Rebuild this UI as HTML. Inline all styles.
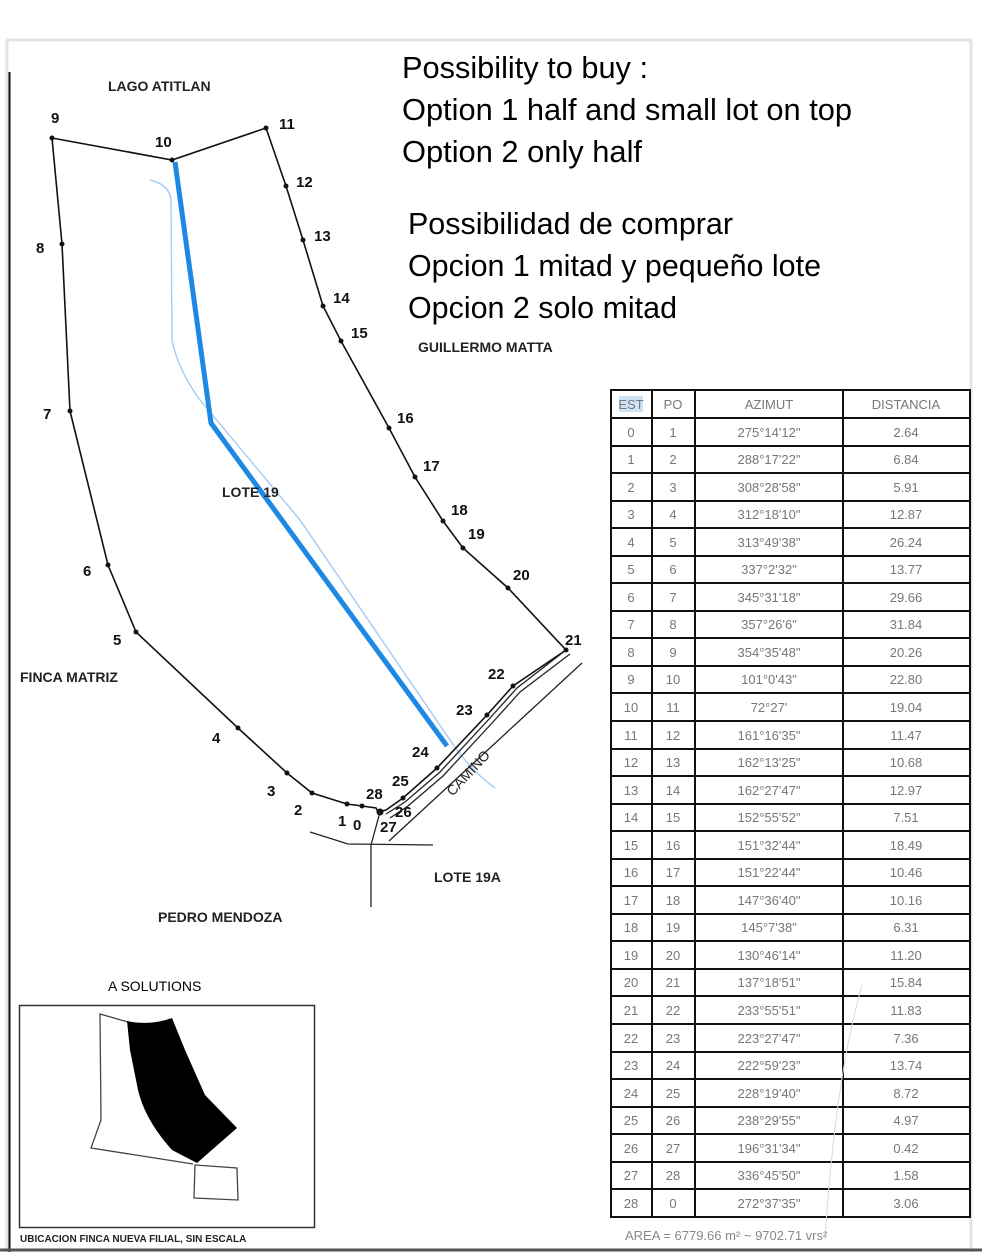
<!DOCTYPE html>
<html><head><meta charset="utf-8"><style>
html,body{margin:0;padding:0;background:#fff;width:982px;height:1252px;overflow:hidden}
svg{display:block}
</style></head><body>
<svg width="982" height="1252" viewBox="0 0 982 1252" xmlns="http://www.w3.org/2000/svg" font-family="Liberation Sans, sans-serif">
<rect x="0" y="0" width="982" height="1252" fill="#fff"/>
<rect x="7" y="40" width="964" height="1220" fill="none" stroke="#e4e4e4" stroke-width="3"/>
<line x1="9.5" y1="72" x2="9.5" y2="1252" stroke="#111" stroke-width="2"/>
<line x1="0" y1="1250" x2="982" y2="1250" stroke="#555" stroke-width="3"/>

<g font-size="30.5" fill="#000">
<text x="402" y="78" textLength="246" lengthAdjust="spacingAndGlyphs">Possibility to buy :</text>
<text x="402" y="120" textLength="450" lengthAdjust="spacingAndGlyphs">Option 1 half and small lot on top</text>
<text x="402" y="162" textLength="240" lengthAdjust="spacingAndGlyphs">Option 2 only half</text>
<text x="408" y="234" textLength="325" lengthAdjust="spacingAndGlyphs">Possibilidad de comprar</text>
<text x="408" y="276" textLength="413" lengthAdjust="spacingAndGlyphs">Opcion 1 mitad y pequeño lote</text>
<text x="408" y="318" textLength="269" lengthAdjust="spacingAndGlyphs">Opcion 2 solo mitad</text>
</g>

<path d="M150,180 Q170,185 171,200 L172,340 Q178,370 200,400 L300,520 L450,740 Q470,770 495,788" fill="none" stroke="#a9cdf5" stroke-width="1.5"/>

<polyline fill="none" stroke="#111" stroke-width="1.6" points="52,138 172,160 266,128 286,186 303,240 323,306 341,341 389,428 415,477 443,521 463,548 508,588 566,650 513,686 487,715 437,768 403,798 386,810 378,812 376,808 362,806 347,804 312,793 287,773 238,728 136,632 108,565 70,411 62,244 52,138"/>
<g fill="#111">
<circle cx="52" cy="138" r="2.5"/><circle cx="172" cy="160" r="2.5"/><circle cx="266" cy="128" r="2.5"/><circle cx="286" cy="186" r="2.5"/><circle cx="303" cy="240" r="2.5"/><circle cx="323" cy="306" r="2.5"/><circle cx="341" cy="341" r="2.5"/><circle cx="389" cy="428" r="2.5"/><circle cx="415" cy="477" r="2.5"/><circle cx="443" cy="521" r="2.5"/><circle cx="463" cy="548" r="2.5"/><circle cx="508" cy="588" r="2.5"/><circle cx="566" cy="650" r="2.5"/><circle cx="513" cy="686" r="2.5"/><circle cx="487" cy="715" r="2.5"/><circle cx="437" cy="768" r="2.5"/><circle cx="403" cy="798" r="2.5"/><circle cx="380" cy="812" r="3.5"/><circle cx="362" cy="806" r="2.5"/><circle cx="347" cy="804" r="2.5"/><circle cx="312" cy="793" r="2.5"/><circle cx="287" cy="773" r="2.5"/><circle cx="238" cy="728" r="2.5"/><circle cx="136" cy="632" r="2.5"/><circle cx="108" cy="565" r="2.5"/><circle cx="70" cy="411" r="2.5"/><circle cx="62" cy="244" r="2.5"/>
</g>
<g fill="none" stroke="#222" stroke-width="1.3">
<polyline points="566,650 517,688 490,718 440,772 405,802 386,814"/>
<polyline points="570,654 520,692 493,722 443,776 408,806 390,818"/>
<line x1="582" y1="663" x2="389" y2="841"/>
<polyline points="310,832 348,844 433,845"/>
<line x1="371" y1="845" x2="371" y2="907"/>
<line x1="380" y1="812" x2="371" y2="845"/>
</g>
<text x="438" y="797" font-size="14" fill="#222" transform="rotate(-47 445 780)">CAMINO</text>

<polyline points="175,162 211,423 447,746" fill="none" stroke="#1e88e5" stroke-width="5"/>

<g font-size="14" font-weight="bold" fill="#222">
<text x="108" y="91">LAGO ATITLAN</text>
<text x="418" y="352">GUILLERMO MATTA</text>
<text x="222" y="497">LOTE 19</text>
<text x="20" y="682">FINCA MATRIZ</text>
<text x="434" y="882">LOTE 19A</text>
<text x="158" y="922">PEDRO MENDOZA</text>
</g>
<g font-size="15" font-weight="bold" fill="#111">
<text x="51" y="123">9</text><text x="155" y="147">10</text><text x="279" y="129">11</text><text x="296" y="187">12</text><text x="314" y="241">13</text><text x="333" y="303">14</text><text x="351" y="338">15</text><text x="397" y="423">16</text><text x="423" y="471">17</text><text x="451" y="515">18</text><text x="468" y="539">19</text><text x="513" y="580">20</text><text x="565" y="645">21</text><text x="488" y="679">22</text><text x="456" y="715">23</text><text x="412" y="757">24</text><text x="392" y="786">25</text><text x="395" y="817">26</text><text x="380" y="832">27</text><text x="366" y="799">28</text><text x="353" y="830">0</text><text x="338" y="826">1</text><text x="294" y="815">2</text><text x="267" y="796">3</text><text x="212" y="743">4</text><text x="113" y="645">5</text><text x="83" y="576">6</text><text x="43" y="419">7</text><text x="36" y="253">8</text>
</g>

<text x="108" y="991" font-size="14" fill="#000">A SOLUTIONS</text>
<rect x="19.5" y="1005.5" width="295" height="222" fill="none" stroke="#333" stroke-width="1.5"/>
<path d="M128,1022 L100,1014 L101,1120 L91,1148 L193,1164" fill="none" stroke="#444" stroke-width="1.3"/>
<path d="M127,1021 Q150,1026 172,1018 L185,1050 L205,1095 L237,1128 L197,1163 L172,1150 Q145,1120 138,1090 L130,1050 Z" fill="#000"/>
<path d="M195,1165 L237,1168 L238,1200 L194,1198 Z" fill="none" stroke="#444" stroke-width="1.3"/>
<text x="20" y="1242" font-size="10" font-weight="bold" fill="#222">UBICACION FINCA NUEVA FILIAL, SIN ESCALA</text>

<g stroke="#111" stroke-width="2" fill="none">
<rect x="611" y="390" width="359" height="827"/>
<line x1="652" y1="390" x2="652" y2="1217"/>
<line x1="695" y1="390" x2="695" y2="1217"/>
<line x1="843" y1="390" x2="843" y2="1217"/>
</g>
<g stroke="#111" stroke-width="2">
<line x1="611" y1="418" x2="970" y2="418"/><line x1="611" y1="446" x2="970" y2="446"/><line x1="611" y1="473" x2="970" y2="473"/><line x1="611" y1="501" x2="970" y2="501"/><line x1="611" y1="528" x2="970" y2="528"/><line x1="611" y1="556" x2="970" y2="556"/><line x1="611" y1="583" x2="970" y2="583"/><line x1="611" y1="611" x2="970" y2="611"/><line x1="611" y1="638" x2="970" y2="638"/><line x1="611" y1="666" x2="970" y2="666"/><line x1="611" y1="693" x2="970" y2="693"/><line x1="611" y1="721" x2="970" y2="721"/><line x1="611" y1="749" x2="970" y2="749"/><line x1="611" y1="776" x2="970" y2="776"/><line x1="611" y1="804" x2="970" y2="804"/><line x1="611" y1="831" x2="970" y2="831"/><line x1="611" y1="859" x2="970" y2="859"/><line x1="611" y1="886" x2="970" y2="886"/><line x1="611" y1="914" x2="970" y2="914"/><line x1="611" y1="941" x2="970" y2="941"/><line x1="611" y1="969" x2="970" y2="969"/><line x1="611" y1="996" x2="970" y2="996"/><line x1="611" y1="1024" x2="970" y2="1024"/><line x1="611" y1="1052" x2="970" y2="1052"/><line x1="611" y1="1079" x2="970" y2="1079"/><line x1="611" y1="1107" x2="970" y2="1107"/><line x1="611" y1="1134" x2="970" y2="1134"/><line x1="611" y1="1162" x2="970" y2="1162"/><line x1="611" y1="1189" x2="970" y2="1189"/>
</g>
<rect x="619" y="396" width="24" height="16" fill="#cfe3f7"/>
<g font-size="13" fill="#777" text-anchor="middle">
<text x="631" y="409">EST</text><text x="673" y="409">PO</text><text x="769" y="409">AZIMUT</text><text x="906" y="409">DISTANCIA</text>
</g>
<g font-size="13" fill="#777" text-anchor="middle">
<text x="631" y="437">0</text><text x="673" y="437">1</text><text x="769" y="437">275°14'12"</text><text x="906" y="437">2.64</text>
<text x="631" y="464">1</text><text x="673" y="464">2</text><text x="769" y="464">288°17'22"</text><text x="906" y="464">6.84</text>
<text x="631" y="492">2</text><text x="673" y="492">3</text><text x="769" y="492">308°28'58"</text><text x="906" y="492">5.91</text>
<text x="631" y="519">3</text><text x="673" y="519">4</text><text x="769" y="519">312°18'10"</text><text x="906" y="519">12.87</text>
<text x="631" y="547">4</text><text x="673" y="547">5</text><text x="769" y="547">313°49'38"</text><text x="906" y="547">26.24</text>
<text x="631" y="574">5</text><text x="673" y="574">6</text><text x="769" y="574">337°2'32"</text><text x="906" y="574">13.77</text>
<text x="631" y="602">6</text><text x="673" y="602">7</text><text x="769" y="602">345°31'18"</text><text x="906" y="602">29.66</text>
<text x="631" y="629">7</text><text x="673" y="629">8</text><text x="769" y="629">357°26'6"</text><text x="906" y="629">31.84</text>
<text x="631" y="657">8</text><text x="673" y="657">9</text><text x="769" y="657">354°35'48"</text><text x="906" y="657">20.26</text>
<text x="631" y="684">9</text><text x="673" y="684">10</text><text x="769" y="684">101°0'43"</text><text x="906" y="684">22.80</text>
<text x="631" y="712">10</text><text x="673" y="712">11</text><text x="769" y="712">72°27'</text><text x="906" y="712">19.04</text>
<text x="631" y="740">11</text><text x="673" y="740">12</text><text x="769" y="740">161°16'35"</text><text x="906" y="740">11.47</text>
<text x="631" y="767">12</text><text x="673" y="767">13</text><text x="769" y="767">162°13'25"</text><text x="906" y="767">10.68</text>
<text x="631" y="795">13</text><text x="673" y="795">14</text><text x="769" y="795">162°27'47"</text><text x="906" y="795">12.97</text>
<text x="631" y="822">14</text><text x="673" y="822">15</text><text x="769" y="822">152°55'52"</text><text x="906" y="822">7.51</text>
<text x="631" y="850">15</text><text x="673" y="850">16</text><text x="769" y="850">151°32'44"</text><text x="906" y="850">18.49</text>
<text x="631" y="877">16</text><text x="673" y="877">17</text><text x="769" y="877">151°22'44"</text><text x="906" y="877">10.46</text>
<text x="631" y="905">17</text><text x="673" y="905">18</text><text x="769" y="905">147°36'40"</text><text x="906" y="905">10.16</text>
<text x="631" y="932">18</text><text x="673" y="932">19</text><text x="769" y="932">145°7'38"</text><text x="906" y="932">6.31</text>
<text x="631" y="960">19</text><text x="673" y="960">20</text><text x="769" y="960">130°46'14"</text><text x="906" y="960">11.20</text>
<text x="631" y="987">20</text><text x="673" y="987">21</text><text x="769" y="987">137°18'51"</text><text x="906" y="987">15.84</text>
<text x="631" y="1015">21</text><text x="673" y="1015">22</text><text x="769" y="1015">233°55'51"</text><text x="906" y="1015">11.83</text>
<text x="631" y="1043">22</text><text x="673" y="1043">23</text><text x="769" y="1043">223°27'47"</text><text x="906" y="1043">7.36</text>
<text x="631" y="1070">23</text><text x="673" y="1070">24</text><text x="769" y="1070">222°59'23"</text><text x="906" y="1070">13.74</text>
<text x="631" y="1098">24</text><text x="673" y="1098">25</text><text x="769" y="1098">228°19'40"</text><text x="906" y="1098">8.72</text>
<text x="631" y="1125">25</text><text x="673" y="1125">26</text><text x="769" y="1125">238°29'55"</text><text x="906" y="1125">4.97</text>
<text x="631" y="1153">26</text><text x="673" y="1153">27</text><text x="769" y="1153">196°31'34"</text><text x="906" y="1153">0.42</text>
<text x="631" y="1180">27</text><text x="673" y="1180">28</text><text x="769" y="1180">336°45'50"</text><text x="906" y="1180">1.58</text>
<text x="631" y="1208">28</text><text x="673" y="1208">0</text><text x="769" y="1208">272°37'35"</text><text x="906" y="1208">3.06</text>
</g>
<path d="M862,985 Q835,1080 825,1240" fill="none" stroke="#c8ddf5" stroke-width="1"/>
<text x="625" y="1240" font-size="13" fill="#888">AREA = 6779.66 m² ~ 9702.71 vrs²</text>
</svg>
</body></html>
